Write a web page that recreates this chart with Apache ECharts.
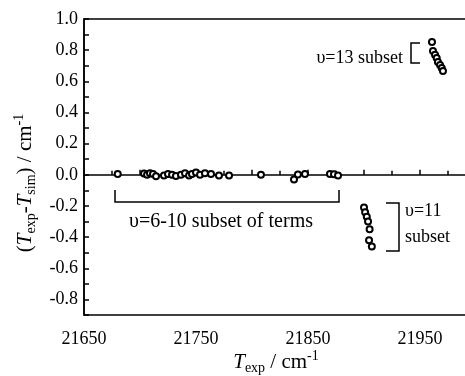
<!DOCTYPE html>
<html>
<head>
<meta charset="utf-8">
<script src="https://cdn.jsdelivr.net/npm/echarts@6/dist/echarts.min.js"></script>
<style>
html, body { margin: 0; padding: 0; background: #fff; }
#main { width: 465px; height: 376px; }
</style>
</head>
<body>
<div id="main"></div>
<script>
// v=6-10 subset of terms
var v610X = [21680.1, 21703.6, 21706.3, 21708.9, 21711.6, 21714.3, 21721.4, 21725, 21728.6, 21732.1,
    21736.6, 21740.2, 21743.8, 21746.4, 21750, 21753.6, 21758, 21763.4, 21770.5, 21779.5,
    21808, 21837.5, 21841, 21847.3, 21869.6, 21873.2, 21876.8];
var v610Y = [0.005, 0.008, 0.0, 0.01, 0.005, -0.01, -0.005, 0.005, 0.0, -0.008,
    0.0, 0.01, -0.005, 0.005, 0.015, 0.0, 0.01, 0.005, -0.005, -0.005,
    0.0, -0.03, 0.002, 0.005, 0.005, 0.003, -0.005];
// v=11 subset
var v11X = [21900, 21901, 21902.5, 21903.6, 21905, 21904.5, 21907];
var v11Y = [-0.21, -0.24, -0.27, -0.30, -0.35, -0.42, -0.46];
// v=13 subset
var v13X = [21960.7, 21961.6, 21963.4, 21964.9, 21966, 21967.9, 21969.4, 21970.5];
var v13Y = [0.853, 0.795, 0.77, 0.75, 0.724, 0.705, 0.686, 0.667];

function zip(xs, ys) {
    return xs.map(function (x, i) { return [x, ys[i]]; });
}
var allPoints = zip(v610X, v610Y).concat(zip(v11X, v11Y), zip(v13X, v13Y));

var font = 'Liberation Serif';
var titleRich = {
    i: { fontFamily: font, fontSize: 21, fontStyle: 'italic', lineHeight: 26, verticalAlign: 'middle' },
    p: { fontFamily: font, fontSize: 21, lineHeight: 26, verticalAlign: 'middle' },
    sub: { fontFamily: font, fontSize: 14, lineHeight: 14, verticalAlign: 'bottom' },
    sup: { fontFamily: font, fontSize: 14, lineHeight: 18, verticalAlign: 'top' }
};
var chart = echarts.init(document.getElementById('main'));
chart.setOption({
    backgroundColor: '#fff',
    animation: false,
    textStyle: { fontFamily: font, color: '#000' },
    grid: {
        left: 84, top: 19, width: 392, height: 296,
        outerBoundsMode: 'none',
        containLabel: false,
        show: true, borderColor: '#000', borderWidth: 1.5
    },
    xAxis: {
        type: 'value',
        min: 21650, max: 22000, interval: 50,
        axisLine: { lineStyle: { color: '#000', width: 1.5 } },
        axisTick: { inside: true, length: 5, lineStyle: { color: '#000', width: 1.5 } },
        minorTick: { show: true, splitNumber: 2, length: 4, lineStyle: { color: '#000', width: 1.5 } },
        splitLine: { show: false },
        axisLabel: {
            fontFamily: font, fontSize: 18, color: '#000', margin: 15,
            formatter: function (v) { return v % 100 === 50 ? String(v) : ''; }
        },
        name: '{i|T}{sub|exp}{p| / cm}{sup|-1}',
        nameLocation: 'middle',
        nameGap: 34,
        nameMoveOverlap: false,
        nameTextStyle: { padding: [0, 8, 0, 0], rich: titleRich }
    },
    yAxis: {
        type: 'value',
        min: -0.9, max: 1.0, interval: 0.1,
        axisLine: { lineStyle: { color: '#000', width: 1.5 } },
        axisTick: { inside: true, length: 5, lineStyle: { color: '#000', width: 1.5 } },
        splitLine: { show: false },
        axisLabel: {
            fontFamily: font, fontSize: 18, color: '#000', margin: 6,
            formatter: function (v) {
                var k = Math.round(v * 10);
                return k % 2 === 0 ? (k / 10).toFixed(1) : '';
            }
        },
        name: '{p|(}{i|T}{sub|exp}{p|-}{i|T}{sub|sim}{p|) / cm}{sup|-1}',
        nameLocation: 'middle',
        nameGap: 46,
        nameRotate: 90,
        nameMoveOverlap: false,
        nameTextStyle: { padding: [0, 32, 0, 0], rich: titleRich }
    },
    series: [{
        type: 'scatter',
        symbol: 'circle',
        symbolSize: 6,
        itemStyle: { color: '#fff', borderColor: '#000', borderWidth: 2, opacity: 1 },
        data: allPoints
    }],
    graphic: [
        { type: 'polyline', shape: { points: [[115, 190], [115, 202], [339, 202], [339, 190]] },
          style: { stroke: '#000', lineWidth: 1.5, fill: null } },
        { type: 'text', x: 221, y: 222,
          style: { text: 'υ=6-10 subset of terms', font: '20px "Liberation Serif"', fill: '#000', align: 'center', verticalAlign: 'middle' } },
        { type: 'polyline', shape: { points: [[386, 203], [399, 203], [399, 251], [386, 251]] },
          style: { stroke: '#000', lineWidth: 1.5, fill: null } },
        { type: 'text', x: 405, y: 211,
          style: { text: 'υ=11', font: '18px "Liberation Serif"', fill: '#000', align: 'left', verticalAlign: 'middle' } },
        { type: 'text', x: 405, y: 237,
          style: { text: 'subset', font: '18px "Liberation Serif"', fill: '#000', align: 'left', verticalAlign: 'middle' } },
        { type: 'polyline', shape: { points: [[420, 43], [411, 43], [411, 63], [420, 63]] },
          style: { stroke: '#000', lineWidth: 1.5, fill: null } },
        { type: 'text', x: 403, y: 58,
          style: { text: 'υ=13 subset', font: '18px "Liberation Serif"', fill: '#000', align: 'right', verticalAlign: 'middle' } }
    ]
});
</script>
</body>
</html>
